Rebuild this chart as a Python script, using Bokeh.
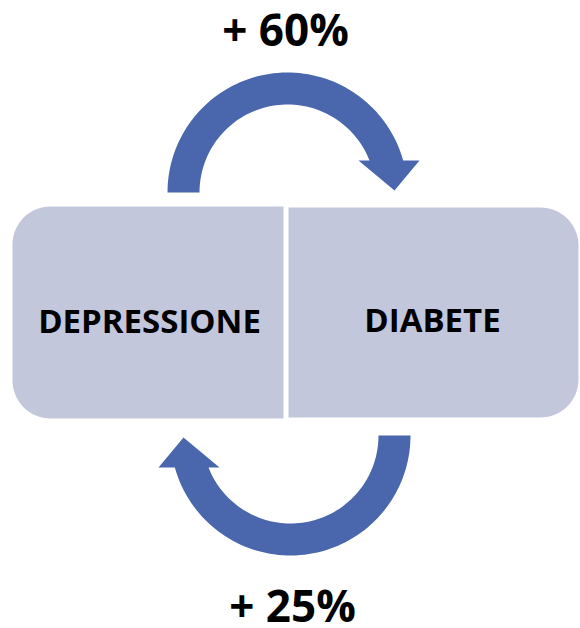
import numpy as np
from bokeh.plotting import figure
from bokeh.models import Range1d
from bokeh.core.properties import value
from bokeh.embed import file_html
from bokeh.resources import INLINE

# ---- data ----
conditions = ["DEPRESSIONE", "DIABETE"]
increase_labels = ["+ 60%", "+ 25%"]          # depressione -> diabete, diabete -> depressione

# ---- styling / geometry parameters (page pixel space, y up) ----
W, H = 580, 628
BOX_COLOR = "#C3C7DC"
ARROW_COLOR = "#4A67AD"

p = figure(width=W, height=H, output_backend="svg", toolbar_location=None,
           x_range=Range1d(0, W), y_range=Range1d(0, H), min_border=0)
p.axis.visible = False
p.grid.visible = False
p.outline_line_color = None
p.background_fill_color = "white"
p.border_fill_color = "white"


def rounded_box(x0, x1, y0, y1, r, left_round):
    xs, ys = [], []
    n = 20
    if left_round:
        xs += [x1, x1]
        ys += [y0, y1]
        t = np.linspace(np.pi / 2, np.pi, n)
        xs += list(x0 + r + r * np.cos(t))
        ys += list(y1 - r + r * np.sin(t))
        t = np.linspace(np.pi, 1.5 * np.pi, n)
        xs += list(x0 + r + r * np.cos(t))
        ys += list(y0 + r + r * np.sin(t))
    else:
        xs += [x0, x0]
        ys += [y0, y1]
        t = np.linspace(np.pi / 2, 0, n)
        xs += list(x1 - r + r * np.cos(t))
        ys += list(y1 - r + r * np.sin(t))
        t = np.linspace(0, -np.pi / 2, n)
        xs += list(x1 - r + r * np.cos(t))
        ys += list(y0 + r + r * np.sin(t))
    return xs, ys


def arrow_shape(cx, cy, r_in, r_out, cut, head_in, head_out, tip_r, tip_dy, rot):
    n = 80
    a_out = np.arcsin(cut / r_out)
    a_in = np.arcsin(cut / r_in)
    t = np.linspace(np.pi, a_out, n)
    lx = list(r_out * np.cos(t))
    ly = list(r_out * np.sin(t))
    lx += [head_out, tip_r, head_in]
    ly += [cut, tip_dy, cut]
    t = np.linspace(a_in, np.pi, n)
    lx += list(r_in * np.cos(t))
    ly += list(r_in * np.sin(t))
    lx, ly = np.array(lx), np.array(ly)
    c, s = np.cos(rot), np.sin(rot)
    xs = cx + c * lx - s * ly
    ys = cy + s * lx + c * ly
    return list(xs), list(ys)


# boxes
bx0, by0 = rounded_box(12, 283, 210, 422, 38, True)
bx1, by1 = rounded_box(288, 578, 211, 421, 38, False)
p.patches([bx0, bx1], [by0, by1], fill_color=BOX_COLOR, line_color=None)

# arrows
ax0, ay0 = arrow_shape(287, 436, 88, 120, 32, 71, 132, 107, 2, 0.0)
ax1, ay1 = arrow_shape(290, 193, 88, 120, 32, 71, 132, 107, 2, np.pi)
p.patches([ax0, ax1], [ay0, ay1], fill_color=ARROW_COLOR, line_color=None)

# condition labels
p.text(x=[149, 432], y=[308, 309], text=conditions,
       text_font=value("Open Sans"), text_font_style="bold", text_font_size="33px",
       text_color="black", text_align="center", text_baseline="alphabetic")

# increase labels
p.text(x=[285, 292], y=[600, 24], text=increase_labels,
       text_font=value("Open Sans"), text_font_style="bold", text_font_size="44px",
       text_color="black", text_align="center", text_baseline="alphabetic")

open("out.html", "w").write(file_html(p, INLINE))
